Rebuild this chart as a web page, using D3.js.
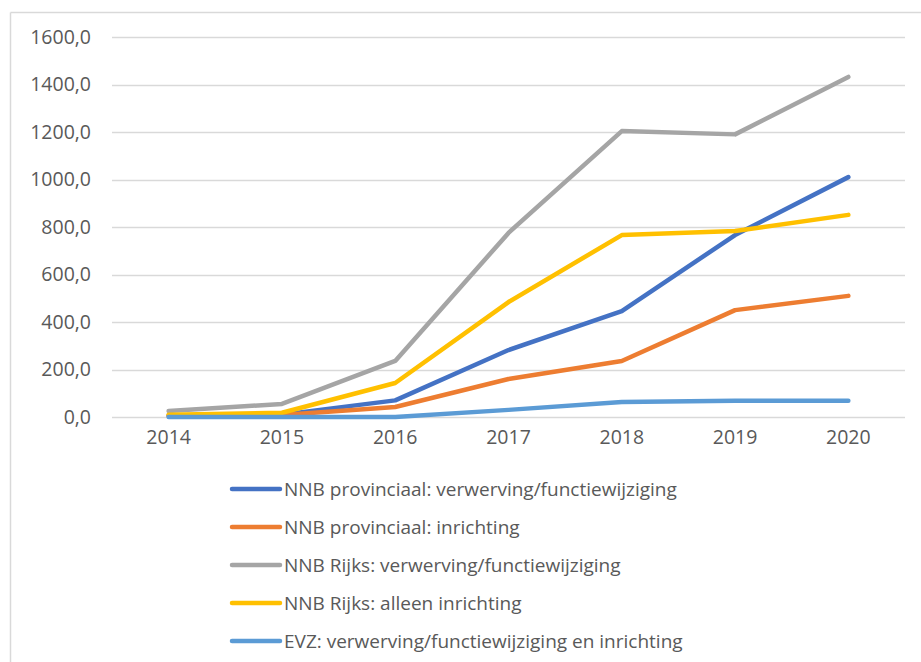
<!DOCTYPE html>
<html><head><meta charset="utf-8">
<script src="https://cdn.jsdelivr.net/npm/d3@7"></script>
<style>body{margin:0;background:#fff}svg{display:block;font-family:"Open Sans","Liberation Sans",sans-serif}</style>
</head><body><svg id="c" width="921" height="662"></svg>
<script>
const years = ["2014","2015","2016","2017","2018","2019","2020"];
const seriesNames = [
  "NNB provinciaal: verwerving/functiewijziging",
  "NNB provinciaal: inrichting",
  "NNB Rijks: verwerving/functiewijziging",
  "NNB Rijks: alleen inrichting",
  "EVZ: verwerving/functiewijziging en inrichting"
];
const nnbProvVerw = [5, 10, 70, 282, 446, 766, 1010];
const nnbProvInr = [5, 8, 42, 160, 236, 450, 510];
const nnbRijksVerw = [25, 55, 236, 775, 1204, 1190, 1432];
const nnbRijksInr = [10, 18, 143, 484, 766, 783, 851];
const evz = [0, 0, 0, 30, 63, 68, 68];
const colors = ["#4472C4", "#ED7D31", "#A5A5A5", "#FFC000", "#5B9BD5"];
const yTicks = [0, 200, 400, 600, 800, 1000, 1200, 1400, 1600];

const allSeries = [nnbProvVerw, nnbProvInr, nnbRijksVerw, nnbRijksInr, evz];
const svg = d3.select("#c");

// frame
svg.append("line").attr("x1",10.5).attr("x2",921).attr("y1",12.5).attr("y2",12.5).attr("stroke","#d9d9d9").attr("stroke-width",1.5);
svg.append("line").attr("x1",10.5).attr("x2",10.5).attr("y1",12.5).attr("y2",662).attr("stroke","#d9d9d9").attr("stroke-width",1.5);

const x = d3.scaleBand().domain(years).range([112, 905]);
const y = d3.scaleLinear().domain([0, 1600]).range([417, 37]);

// grid
svg.append("g").selectAll("line").data(yTicks).join("line")
  .attr("x1", 112).attr("x2", 905)
  .attr("y1", d => Math.round(y(d)) + 0.5).attr("y2", d => Math.round(y(d)) + 0.5)
  .attr("stroke", "#d9d9d9").attr("stroke-width", 1.5);

const fmt = d => d.toFixed(1).replace(".", ",");
// y axis
const yAxis = d3.axisLeft(y).tickValues(yTicks).tickFormat(fmt).tickSize(0).tickPadding(0);
const gy = svg.append("g").attr("transform", "translate(91,0)").call(yAxis);
gy.select(".domain").remove();
gy.selectAll("text").attr("fill", "#595959").style("font-size", "19.5px").style("font-family", "'Open Sans','Liberation Sans',sans-serif");

// x axis
const xAxis = d3.axisBottom(x).tickSize(0).tickPadding(0);
const gx = svg.append("g").attr("transform", "translate(0,430)").call(xAxis);
gx.select(".domain").remove();
gx.selectAll("text").attr("fill", "#595959").style("font-size", "19.5px").style("font-family", "'Open Sans','Liberation Sans',sans-serif");

const line = d3.line().x((d, i) => x(years[i]) + x.bandwidth() / 2).y(d => y(d));
svg.append("g").selectAll("path").data(allSeries).join("path")
  .attr("d", d => line(d))
  .attr("fill", "none")
  .attr("stroke", (d, i) => colors[i])
  .attr("stroke-width", 4.5)
  .attr("stroke-linejoin", "round")
  .attr("stroke-linecap", "round");

// legend
const legY = [489, 527, 565, 603, 641];
const leg = svg.append("g").selectAll("g").data(seriesNames).join("g")
  .attr("transform", (d, i) => `translate(0,${legY[i]})`);
leg.append("line").attr("x1", 232).attr("x2", 280).attr("y1", 0).attr("y2", 0)
  .attr("stroke", (d, i) => colors[i]).attr("stroke-width", 4.5).attr("stroke-linecap", "round");
leg.append("text").attr("x", 284).attr("y", 0).attr("dy", "0.35em")
  .attr("fill", "#595959").style("font-size", "19px").text(d => d);
</script></body></html>
